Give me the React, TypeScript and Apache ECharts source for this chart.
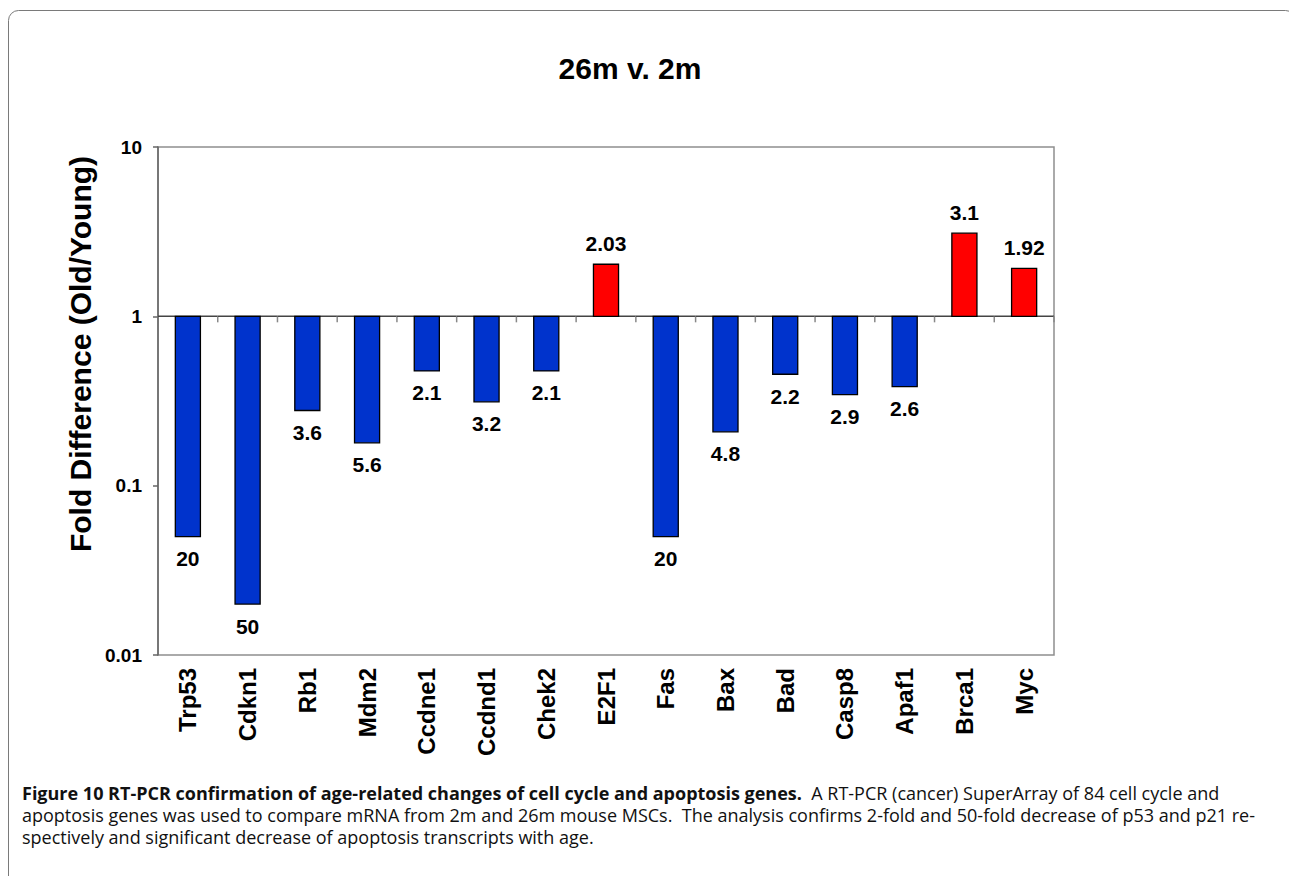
import React, { useEffect, useRef } from "react";
import * as echarts from "echarts";

const categories = ["Trp53", "Cdkn1", "Rb1", "Mdm2", "Ccdne1", "Ccdnd1", "Chek2", "E2F1", "Fas", "Bax", "Bad", "Casp8", "Apaf1", "Brca1", "Myc"];
const foldValues = [0.05, 0.02, 0.278, 0.179, 0.476, 0.3125, 0.476, 2.03, 0.05, 0.208, 0.455, 0.345, 0.385, 3.1, 1.92];
const barLabels = ["20", "50", "3.6", "5.6", "2.1", "3.2", "2.1", "2.03", "20", "4.8", "2.2", "2.9", "2.6", "3.1", "1.92"];
const yTicks = [0.01, 0.1, 1, 10];

const chartTitle = "26m v. 2m";
const yName = "Fold Difference (Old/Young)";
const captionBold = "Figure 10 RT-PCR confirmation of age-related changes of cell cycle and apoptosis genes.";
const captionLine1 = "  A RT-PCR (cancer) SuperArray of 84 cell cycle and";
const captionLine2 = "apoptosis genes was used to compare mRNA from 2m and 26m mouse MSCs.  The analysis confirms 2-fold and 50-fold decrease of p53 and p21 re-";
const captionLine3 = "spectively and significant decrease of apoptosis transcripts with age.";

const ARIAL = "'Liberation Sans', Arial, sans-serif";
const CAP = "'Open Sans', 'Noto Sans', sans-serif";

export default function App() {
  const ref = useRef<HTMLDivElement>(null);
  useEffect(() => {
    if (!ref.current) return;
    const chart = echarts.init(ref.current, null, { renderer: "svg" });
    const data = foldValues.map((v, i) => [i, v]);
    chart.setOption({
      animation: false,
      backgroundColor: "#ffffff",
      grid: {
        left: 158, right: 235, top: 147, bottom: 221,
        show: true, borderColor: "#8e8e8e", borderWidth: 1.5, backgroundColor: "transparent",
      },
      xAxis: {
        type: "category",
        data: categories,
        axisLine: { show: false },
        axisTick: { show: false },
        splitLine: { show: false },
        axisLabel: {
          rotate: 90, margin: 13, color: "#000",
          fontFamily: ARIAL, fontWeight: "bold", fontSize: 24,
        },
      },
      yAxis: {
        type: "log",
        logBase: 10,
        min: 0.01,
        max: 10,
        splitLine: { show: false },
        axisLine: { show: true, lineStyle: { color: "#666", width: 1.5 } },
        axisTick: { show: true, inside: false, length: 5, lineStyle: { color: "#666", width: 1.5 } },
        axisLabel: {
          margin: 16, color: "#000", fontFamily: ARIAL, fontWeight: "bold", fontSize: 19,
          formatter: (v: number) => {
            const n = Number(v.toPrecision(3));
            return yTicks.includes(n) ? String(n) : "";
          },
        },
      },
      series: [
        {
          type: "custom",
          data,
          clip: false,
          renderItem: (params: any, api: any) => {
            const idx = api.value(0);
            const v = api.value(1);
            const base = api.coord([idx, 1]);
            const end = api.coord([idx, v]);
            const bw = api.size([1, 1])[0];
            const w = bw * 0.42;
            const top = Math.min(base[1], end[1]);
            const h = Math.abs(end[1] - base[1]);
            const up = v >= 1;
            const children: any[] = [
              {
                type: "line",
                shape: { x1: base[0] - bw / 2, y1: base[1], x2: base[0] + bw / 2, y2: base[1] },
                style: { stroke: "#444", lineWidth: 1.5 },
              },
              {
                type: "line",
                shape: { x1: base[0] + bw / 2, y1: base[1], x2: base[0] + bw / 2, y2: base[1] + 6 },
                style: { stroke: "#888", lineWidth: 1.5 },
              },
              {
                type: "rect",
                shape: { x: base[0] - w / 2, y: top, width: w, height: h },
                style: { fill: up ? "#ff0000" : "#0033cc", stroke: "#000", lineWidth: 1.3 },
              },
              {
                type: "text",
                x: base[0],
                y: up ? end[1] - 21 : end[1] + 22,
                style: {
                  text: barLabels[idx], fill: "#000", align: "center", verticalAlign: "middle",
                  font: `bold 21px ${ARIAL}`,
                },
              },
            ];
            return { type: "group", children };
          },
        },
      ],
      graphic: [
        {
          type: "rect", silent: true,
          shape: { x: 8.5, y: 10.5, width: 1287, height: 900, r: 10 },
          style: { fill: "none", stroke: "#7a7a7a", lineWidth: 1 },
        },
        {
          type: "text", x: 630, y: 68,
          style: { text: chartTitle, fill: "#000", align: "center", verticalAlign: "middle", font: `bold 30px ${ARIAL}` },
        },
        {
          type: "text", x: 80, y: 354, rotation: Math.PI / 2,
          style: { text: yName, fill: "#000", align: "center", verticalAlign: "middle", font: `bold 30px ${ARIAL}` },
        },
        {
          type: "text", x: 22, y: 793,
          style: {
            text: `{b|${captionBold}}${captionLine1}`,
            fill: "#111", verticalAlign: "middle", fontFamily: CAP, fontSize: 18,
            rich: { b: { fontWeight: "bold", fontFamily: CAP, fontSize: 18, fill: "#111" } },
          },
        },
        {
          type: "text", x: 22, y: 815,
          style: { text: captionLine2, fill: "#111", verticalAlign: "middle", fontFamily: CAP, fontSize: 18 },
        },
        {
          type: "text", x: 22, y: 837,
          style: { text: captionLine3, fill: "#111", verticalAlign: "middle", fontFamily: CAP, fontSize: 18 },
        },
      ],
    });
    return () => chart.dispose();
  }, []);
  return (
    <div
      ref={ref}
      style={{ position: "absolute", left: 0, top: 0, width: 1289, height: 876, background: "#fff" }}
    />
  );
}
